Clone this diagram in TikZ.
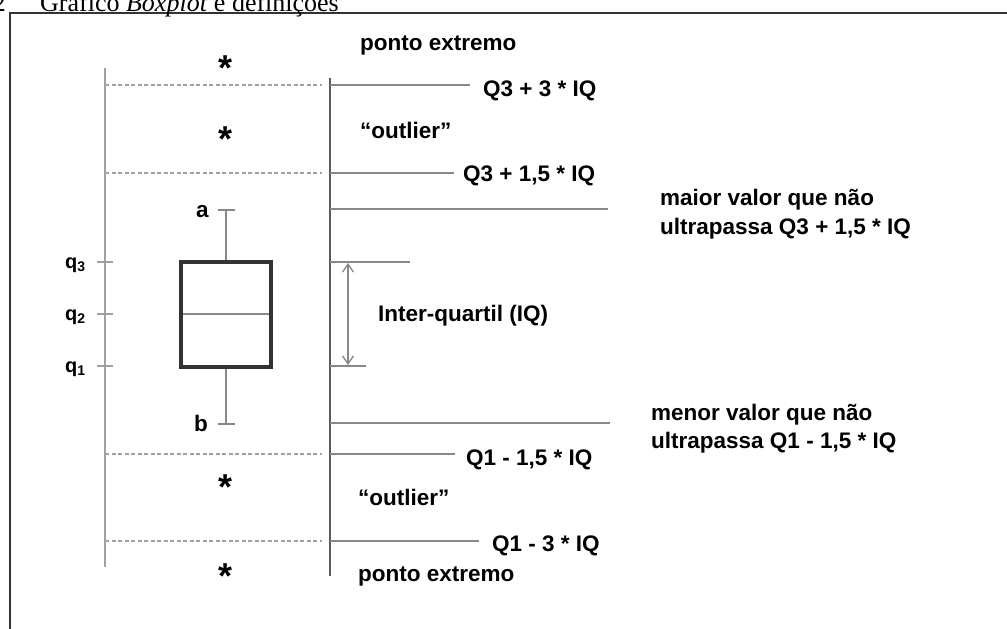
\documentclass[tikz,border=0pt]{standalone}
\usepackage{fontspec}
\setmainfont{Liberation Serif}
\newfontfamily\arialf{Liberation Sans}
\usetikzlibrary{arrows.meta}
\definecolor{lgray}{HTML}{A0A0A0}
\definecolor{mgray}{HTML}{888888}
\definecolor{dgray}{HTML}{333333}
\tikzset{
  lbl/.style={anchor=base west, inner sep=0pt, font=\arialf\bfseries\fontsize{22.5}{29}\selectfont},
  qlbl/.style={anchor=base west, inner sep=0pt, font=\arialf\bfseries\fontsize{20}{24}\selectfont},
  starlbl/.style={anchor=base, inner sep=0pt, font=\arialf\bfseries\fontsize{36}{40}\selectfont},
  caplbl/.style={inner sep=0pt, font=\fontsize{26}{30}\selectfont},
  frameline/.style={draw=dgray, line width=2pt},
  axisline/.style={draw=lgray, line width=1.6pt},
  refline/.style={draw=mgray, line width=1.4pt},
  dashline/.style={draw=lgray, line width=1.3pt, dash pattern=on 4pt off 2.5pt},
  arrowline/.style={draw=mgray, line width=1.3pt, {Straight Barb[length=8pt,width=11pt]}-{Straight Barb[length=8pt,width=11pt]}}
}
\begin{document}
\begin{tikzpicture}[x=1pt,y=-1pt]
\useasboundingbox (0,0) rectangle (1007,629);
\clip (0,0) rectangle (1007,629);
% frame
\coordinate (fbl) at (10,640);
\coordinate (ftl) at (10,13);
\coordinate (ftr) at (1020,13);
\draw[frameline] (fbl) -- (ftl) -- (ftr);
% caption (cut off at top)
\node[caplbl, anchor=base east] (capnum) at (6,11) {2};
\node[caplbl, anchor=base west] (captxt) at (40,11) {Gráfico \textit{Boxplot} e definições};
% left axis
\coordinate (axt) at (105,68);
\coordinate (axb) at (105,567);
\draw[axisline] (axt) -- (axb);
% dashed limits
\coordinate (d1a) at (105,85);  \coordinate (d1b) at (322,85);
\coordinate (d2a) at (105,173); \coordinate (d2b) at (322,173);
\coordinate (d3a) at (105,454); \coordinate (d3b) at (322,454);
\coordinate (d4a) at (105,541); \coordinate (d4b) at (322,541);
\draw[dashline] (d1a) -- (d1b);
\draw[dashline] (d2a) -- (d2b);
\draw[dashline] (d3a) -- (d3b);
\draw[dashline] (d4a) -- (d4b);
% ticks
\coordinate (t3a) at (97,262); \coordinate (t3b) at (113,262);
\coordinate (t2a) at (97,314); \coordinate (t2b) at (113,314);
\coordinate (t1a) at (97,366); \coordinate (t1b) at (113,366);
\draw[axisline] (t3a) -- (t3b);
\draw[axisline] (t2a) -- (t2b);
\draw[axisline] (t1a) -- (t1b);
\node[qlbl] (q3) at (65,268) {q\textsubscript{3}};
\node[qlbl] (q2) at (65,320) {q\textsubscript{2}};
\node[qlbl] (q1) at (65,372) {q\textsubscript{1}};
% right axis
\coordinate (rat) at (330,78);
\coordinate (rab) at (330,576);
\draw[draw=dgray!80, line width=1.6pt] (rat) -- (rab);
% reference lines
\coordinate (h1a) at (330,85);  \coordinate (h1b) at (470,85);
\coordinate (h2a) at (330,173); \coordinate (h2b) at (454,173);
\coordinate (h3a) at (330,209); \coordinate (h3b) at (608,209);
\coordinate (h4a) at (330,262); \coordinate (h4b) at (410,262);
\coordinate (h5a) at (330,366); \coordinate (h5b) at (366,366);
\coordinate (h6a) at (330,423); \coordinate (h6b) at (610,423);
\coordinate (h7a) at (330,454); \coordinate (h7b) at (455,454);
\coordinate (h8a) at (330,541); \coordinate (h8b) at (479,541);
\foreach \i in {1,...,8} {\draw[refline] (h\i a) -- (h\i b);}
% IQ arrow
\coordinate (iqt) at (348,263);
\coordinate (iqb) at (348,365);
\draw[arrowline] (iqt) -- (iqb);
% box plot
\coordinate (wt) at (226,210); \coordinate (wtl) at (218,210); \coordinate (wtr) at (235,210);
\coordinate (bt) at (226,262); \coordinate (bb) at (226,367);
\coordinate (wb) at (226,424); \coordinate (wbl) at (218,424); \coordinate (wbr) at (235,424);
\coordinate (ml) at (181,314); \coordinate (mr) at (271,314);
\draw[refline] (wt) -- (bt);
\draw[refline] (bb) -- (wb);
\draw[refline] (wtl) -- (wtr);
\draw[refline] (wbl) -- (wbr);
\draw[refline] (ml) -- (mr);
\node[draw=dgray, line width=4pt, minimum width=90pt, minimum height=105pt, inner sep=0pt] (box) at (226,314.5) {};
\node[lbl] (alab) at (196,217) {a};
\node[lbl] (blab) at (194,431) {b};
% asterisks
\node[starlbl] (s1) at (226,80) {*};
\node[starlbl] (s2) at (226,151) {*};
\node[starlbl] (s3) at (226,499) {*};
\node[starlbl] (s4) at (226,588) {*};
% labels
\node[lbl] (pe1) at (360,50) {ponto extremo};
\node[lbl] (l1) at (483,96) {Q3 + 3 * IQ};
\node[lbl] (out1) at (360,138) {“outlier”};
\node[lbl] (l2) at (463,181) {Q3 + 1,5 * IQ};
\node[lbl] (mx1) at (660,205) {maior valor que não};
\node[lbl] (mx2) at (660,234) {ultrapassa Q3 + 1,5 * IQ};
\node[lbl] (iq) at (378,321) {Inter-quartil (IQ)};
\node[lbl] (mn1) at (651,420) {menor valor que não};
\node[lbl] (mn2) at (651,448) {ultrapassa Q1 - 1,5 * IQ};
\node[lbl] (l3) at (466,465) {Q1 - 1,5 * IQ};
\node[lbl] (out2) at (358,505) {“outlier”};
\node[lbl] (l4) at (492,551) {Q1 - 3 * IQ};
\node[lbl] (pe2) at (358,581) {ponto extremo};
\end{tikzpicture}
\end{document}
